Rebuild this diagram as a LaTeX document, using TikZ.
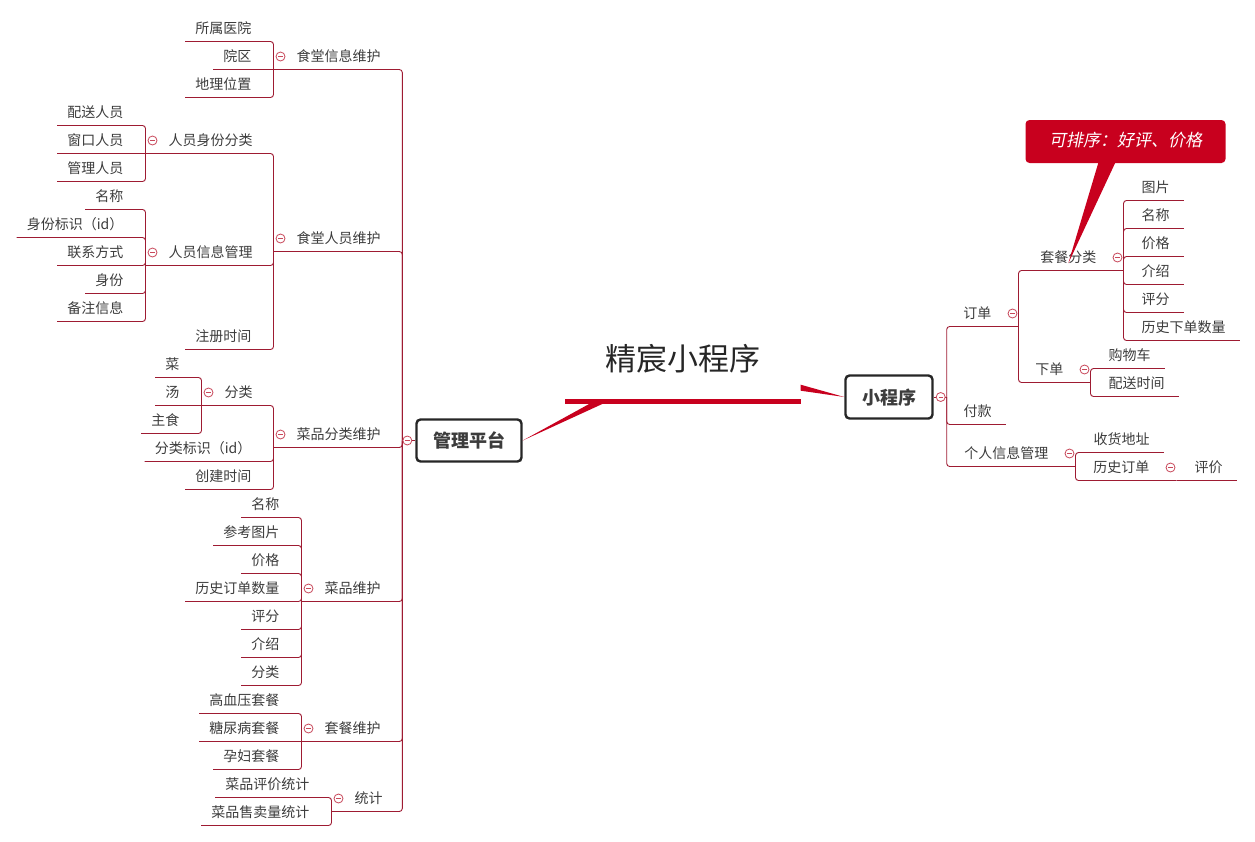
\documentclass[tikz,border=0pt]{standalone}
\usepackage{fontspec}
\setmainfont{Noto Sans CJK SC}
\newfontfamily\slantfont[FakeSlant=0.2]{Noto Sans CJK SC}
\usepackage{tikz}
\usetikzlibrary{calc, positioning}
\usepackage[x11names, svgnames, rgb]{xcolor}
\definecolor{linkred}{HTML}{9E1B32}
\definecolor{markred}{HTML}{C8485A}
\definecolor{mainred}{HTML}{C8001E}
\definecolor{inkgray}{HTML}{3C3C3C}

\begin{document}
\begin{tikzpicture}[
		x=1pt, y=-1pt,
		every node/.style={
				text=inkgray,
				font=\fontsize{14}{16}\selectfont,
				inner ysep=0pt,
				text height=12pt, % Height above the baseline
				text depth=8pt    % Baseline to underline
			},
		leafL/.style={anchor=south east, inner xsep=10pt},
		leafR/.style={anchor=south west, inner xsep=14pt},
		branchL/.style={anchor=south west, inner xsep=23pt},
		branchR/.style={anchor=south east, inner xsep=27pt},
		root/.style={
				draw=black!85, line width=2.4pt, rounded corners=4pt, fill=white,
				font=\bfseries\fontsize{18}{20}\selectfont,
				text height=14pt, text depth=0pt, inner sep=0pt
			},
		link/.style={draw=linkred, line width=0.9pt, rounded corners=3pt},
		fold/.style={
				circle, draw=markred, fill=white, line width=0.8pt,
				minimum size=9pt, inner sep=0pt, text height=0pt, text depth=0pt,
				path picture={\draw[markred, line width=0.7pt]
						([xshift=-2.2pt]path picture bounding box.center) --
						([xshift=2.2pt]path picture bounding box.center);}
			}
	]
	% half a pixel off, so that the thin lines sit on pixel rows
	\useasboundingbox (-0.5,-0.5) rectangle (1254.5,840.5);

	% centre
	\node[anchor=base, minimum width=235pt, inner sep=0pt,
		font=\fontsize{31}{34}\selectfont, text=black!85,
		text height=26pt, text depth=31pt] (title) at (682.5,370) {精宸小程序};
	\node[root, minimum width=105pt, minimum height=42pt] (mgmt) at (468.5,440) {管理平台};
	\node[root, minimum width=87pt, minimum height=43pt] (app) at (888.5,396.5) {小程序};
	\coordinate (mgmt-j) at ([xshift=-13pt]mgmt.west);
	\coordinate (app-j) at ([xshift=13pt]app.east);

	\draw[mainred, line width=5.5pt] (title.south west) -- (title.south east);
	\fill[mainred] ([xshift=28pt]title.south west) -- ([xshift=42pt]title.south west) -- (mgmt.east) -- cycle;
	\fill[mainred] ([yshift=17pt]title.south east) -- ([yshift=11pt]title.south east) -- (app.west) -- cycle;

	% left: management
	\node[branchL] (info) at (273,69) {食堂信息维护};
	\node[leafL] (info-1) at (261,41) {所属医院};
	\node[leafL] (info-2) at (261,69) {院区};
	\node[leafL] (info-3) at (261,97) {地理位置};

	\node[branchL] (staff) at (273,251) {食堂人员维护};
	\node[branchL] (role) at (145,153) {人员身份分类};
	\node[leafL] (role-1) at (133,125) {配送人员};
	\node[leafL] (role-2) at (133,153) {窗口人员};
	\node[leafL] (role-3) at (133,181) {管理人员};
	\node[branchL] (person) at (145,265) {人员信息管理};
	\node[leafL] (person-1) at (133,209) {名称};
	\node[leafL] (person-2) at (133,237) {身份标识（id）};
	\node[leafL] (person-3) at (133,265) {联系方式};
	\node[leafL] (person-4) at (133,293) {身份};
	\node[leafL] (person-5) at (133,321) {备注信息};
	\node[leafL] (staff-reg) at (261,349) {注册时间};

	\node[branchL] (dishcat) at (273,447) {菜品分类维护};
	\node[branchL] (cat) at (201,405) {分类};
	\node[leafL] (cat-1) at (189,377) {菜};
	\node[leafL] (cat-2) at (189,405) {汤};
	\node[leafL] (cat-3) at (189,433) {主食};
	\node[leafL] (dishcat-id) at (261,461) {分类标识（id）};
	\node[leafL] (dishcat-time) at (261,489) {创建时间};

	\node[branchL] (dish) at (301,601) {菜品维护};
	\node[leafL] (dish-1) at (289,517) {名称};
	\node[leafL] (dish-2) at (289,545) {参考图片};
	\node[leafL] (dish-3) at (289,573) {价格};
	\node[leafL] (dish-4) at (289,601) {历史订单数量};
	\node[leafL] (dish-5) at (289,629) {评分};
	\node[leafL] (dish-6) at (289,657) {介绍};
	\node[leafL] (dish-7) at (289,685) {分类};

	\node[branchL] (combo) at (301,741) {套餐维护};
	\node[leafL] (combo-1) at (289,713) {高血压套餐};
	\node[leafL] (combo-2) at (289,741) {糖尿病套餐};
	\node[leafL] (combo-3) at (289,769) {孕妇套餐};

	\node[branchL] (stats) at (331,811) {统计};
	\node[leafL] (stats-1) at (319,797) {菜品评价统计};
	\node[leafL] (stats-2) at (319,825) {菜品售卖量统计};

	% right: mini program
	\node[branchR] (order) at (1018,326) {订单};
	\node[branchR] (combocat) at (1123,270) {套餐分类};
	\node[leafR] (cc-1) at (1127,200) {图片};
	\node[leafR] (cc-2) at (1127,228) {名称};
	\node[leafR] (cc-3) at (1127,256) {价格};
	\node[leafR] (cc-4) at (1127,284) {介绍};
	\node[leafR] (cc-5) at (1127,312) {评分};
	\node[leafR] (cc-6) at (1127,340) {历史下单数量};
	\node[branchR] (place) at (1090,382) {下单};
	\node[leafR] (place-1) at (1094,368) {购物车};
	\node[leafR] (place-2) at (1094,396) {配送时间};

	\node[leafR] (pay) at (949,424) {付款};

	\node[branchR] (profile) at (1075,466) {个人信息管理};
	\node[leafR] (addr) at (1079,452) {收货地址};
	\node[branchR] (history) at (1176,480) {历史订单};
	\node[leafR] (review) at (1180,480) {评价};

	% links, left
	\draw[link] (info.south west) -| (mgmt-j) |- (stats.south west);
	\foreach \n in {staff, dishcat, dish, combo}
	\draw[link] (\n.south west) -| (mgmt-j);
	\draw[link] (mgmt-j) -- (mgmt.west);

	\draw[link] (info-1.south west) -| (info.south west) |- (info-3.south west);
	\draw[link] (info-2.south west) -- (info.south west);

	\draw[link] (role.south west) -| (staff.south west) |- (staff-reg.south west);
	\draw[link] (person.south west) -| (staff.south west);
	\draw[link] (role-1.south west) -| (role.south west) |- (role-3.south west);
	\draw[link] (role-2.south west) -- (role.south west);
	\draw[link] (person-1.south west) -| (person.south west) |- (person-5.south west);
	\foreach \i in {2,3,4}
	\draw[link] (person-\i.south west) -| (person.south west);

	\draw[link] (cat.south west) -| (dishcat.south west) |- (dishcat-time.south west);
	\draw[link] (dishcat-id.south west) -| (dishcat.south west);
	\draw[link] (cat-1.south west) -| (cat.south west) |- (cat-3.south west);
	\draw[link] (cat-2.south west) -- (cat.south west);

	\draw[link] (dish-1.south west) -| (dish.south west) |- (dish-7.south west);
	\foreach \i in {2,...,6}
	\draw[link] (dish-\i.south west) -| (dish.south west);

	\draw[link] (combo-1.south west) -| (combo.south west) |- (combo-3.south west);
	\draw[link] (combo-2.south west) -- (combo.south west);

	\draw[link] (stats-1.south west) -| (stats.south west) |- (stats-2.south west);

	% links, right
	\draw[link] (order.south east) -| (app-j) |- (profile.south east);
	\draw[link] (pay.south east) -| (app-j);
	\draw[link] (app.east) -- (app-j);

	\draw[link] (combocat.south east) -| (order.south east) |- (place.south east);
	\draw[link] (cc-1.south east) -| (combocat.south east) |- (cc-6.south east);
	\foreach \i in {2,...,5}
	\draw[link] (cc-\i.south east) -| (combocat.south east);
	\draw[link] (place-1.south east) -| (place.south east) |- (place-2.south east);

	\draw[link] (addr.south east) -| (profile.south east) |- (history.south east);
	\draw[link] (review.south east) -- (history.south east);

	% fold markers
	\node[fold] (f-mgmt) at ([xshift=-8pt]mgmt.west) {};
	\node[fold] (f-app) at ([xshift=7pt]app.east) {};
	\foreach \n in {info, staff, role, person, dishcat, cat, dish, combo, stats}
	\node[fold] (f-\n) at ([xshift=7pt, yshift=13pt]\n.south west) {};
	\foreach \n in {order, combocat, place, profile, history}
	\node[fold] (f-\n) at ([xshift=-6pt, yshift=13pt]\n.south east) {};

	% callout
	\node[fill=mainred, rounded corners=4pt, minimum width=200pt, minimum height=43pt,
		text=white, font=\slantfont\fontsize{17}{20}\selectfont,
		text height=13pt, text depth=3pt, inner sep=0pt] (note) at (1125,141) {可排序：好评、价格};
	\fill[mainred] ([xshift=-27pt, yshift=1pt]note.south) -- ([xshift=-10pt, yshift=1pt]note.south)
		-- ([yshift=-3pt]combocat.center) -- cycle;

\end{tikzpicture}
\end{document}
